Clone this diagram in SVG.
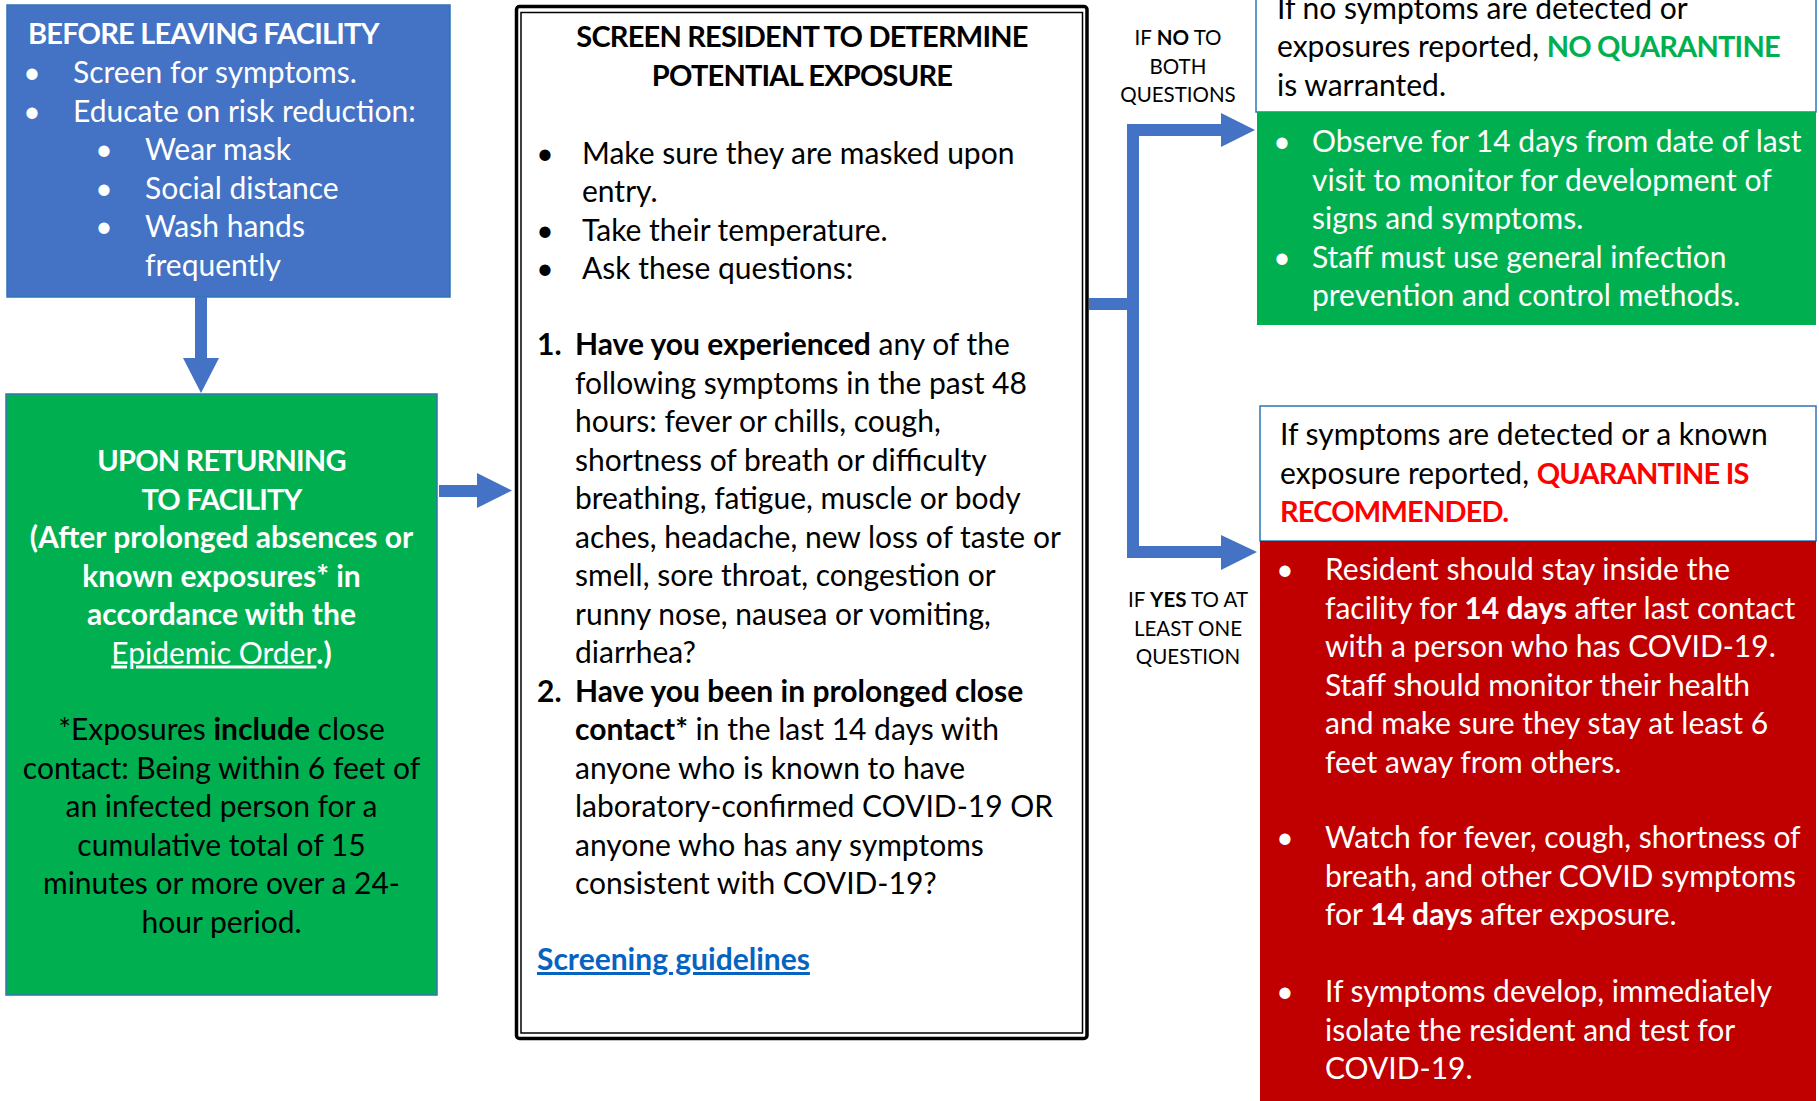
<svg xmlns="http://www.w3.org/2000/svg" width="1819" height="1101" viewBox="0 0 1819 1101">
<style>
text{font-family:Lato,"Open Sans","Liberation Sans",sans-serif;font-size:30px}
.b{font-weight:700}
.w{fill:#fff}
.k{fill:#000}
.c{text-anchor:middle}
.cap{font-size:29px;letter-spacing:-0.8px}
.lbl{font-size:20.5px}
.u{text-decoration:underline}
.bx{stroke:#2E75B6;stroke-width:1.5}
.arr{fill:#4472C4}
</style>
<rect width="1819" height="1101" fill="#fff"/>

<g id="before">
<rect class="bx" x="7" y="5" width="443" height="292" fill="#4472C4"/>
<text class="w b cap" x="28" y="44">BEFORE LEAVING FACILITY</text>
<text class="w c" x="32" y="83">•</text><text class="w" x="73" y="83">Screen for symptoms.</text>
<text class="w c" x="32" y="121.5">•</text><text class="w" x="73" y="121.5">Educate on risk reduction:</text>
<text class="w c" x="104" y="160">•</text><text class="w" x="145" y="160">Wear mask</text>
<text class="w c" x="104" y="198.5">•</text><text class="w" x="145" y="198.5">Social distance</text>
<text class="w c" x="104" y="237">•</text><text class="w" x="145" y="237">Wash hands</text>
<text class="w" x="145" y="275.5">frequently</text>
</g>

<g id="returning">
<rect class="bx" x="6" y="394" width="431" height="601" fill="#00B050"/>
<text class="w b c cap" x="221.5" y="471">UPON RETURNING</text>
<text class="w b c cap" x="221.5" y="509.5">TO FACILITY</text>
<text class="w b c" x="221.5" y="548">(After prolonged absences or</text>
<text class="w b c" x="221.5" y="586.5">known exposures* in</text>
<text class="w b c" x="221.5" y="625">accordance with the</text>
<text class="w c" x="221.5" y="663.5"><tspan class="u">Epidemic Order</tspan><tspan class="b">.)</tspan></text>
<text class="k c" x="221.5" y="740">*Exposures <tspan class="b">include</tspan> close</text>
<text class="k c" x="221.5" y="778.5">contact: Being within 6 feet of</text>
<text class="k c" x="221.5" y="817">an infected person for a</text>
<text class="k c" x="221.5" y="855.5">cumulative total of 15</text>
<text class="k c" x="221.5" y="894">minutes or more over a 24-</text>
<text class="k c" x="221.5" y="932.5">hour period.</text>
</g>

<g id="screen">
<rect x="516.5" y="6.5" width="570.5" height="1032" rx="3" fill="#fff" stroke="#000" stroke-width="3.5"/>
<rect x="521" y="12.5" width="561.5" height="1020.5" fill="none" stroke="#000" stroke-width="1.5"/>
<text class="k b c cap" x="802" y="47">SCREEN RESIDENT TO DETERMINE</text>
<text class="k b c cap" x="802" y="86">POTENTIAL EXPOSURE</text>
<text class="k c" x="545" y="163.5">•</text><text class="k" x="582" y="163.5">Make sure they are masked upon</text>
<text class="k" x="582" y="202">entry.</text>
<text class="k c" x="545" y="240.5">•</text><text class="k" x="582" y="240.5">Take their temperature.</text>
<text class="k c" x="545" y="279">•</text><text class="k" x="582" y="279">Ask these questions:</text>
<text class="k b" x="537" y="355">1.</text><text class="k" x="575" y="355"><tspan class="b">Have you experienced</tspan> any of the</text>
<text class="k" x="575" y="393.5">following symptoms in the past 48</text>
<text class="k" x="575" y="432">hours: fever or chills, cough,</text>
<text class="k" x="575" y="470.5">shortness of breath or difficulty</text>
<text class="k" x="575" y="509">breathing, fatigue, muscle or body</text>
<text class="k" x="575" y="547.5">aches, headache, new loss of taste or</text>
<text class="k" x="575" y="586">smell, sore throat, congestion or</text>
<text class="k" x="575" y="624.5">runny nose, nausea or vomiting,</text>
<text class="k" x="575" y="663">diarrhea?</text>
<text class="k b" x="537" y="701.5">2.</text><text class="k b" x="575" y="701.5">Have you been in prolonged close</text>
<text class="k" x="575" y="740"><tspan class="b">contact*</tspan> in the last 14 days with</text>
<text class="k" x="575" y="778.5">anyone who is known to have</text>
<text class="k" x="575" y="817">laboratory-confirmed COVID-19 OR</text>
<text class="k" x="575" y="855.5">anyone who has any symptoms</text>
<text class="k" x="575" y="894">consistent with COVID-19?</text>
<text class="b u" x="537" y="970" fill="#0563C1">Screening guidelines</text>
</g>

<g id="no-quarantine">
<rect class="bx" x="1256" y="-5" width="560" height="117" fill="#fff"/>
<rect x="1257" y="112" width="559" height="213" fill="#00B050"/>
<text class="k" x="1277" y="18.5">If no symptoms are detected or</text>
<text class="k" x="1277" y="57">exposures reported, <tspan class="b cap" fill="#00B050">NO QUARANTINE</tspan></text>
<text class="k" x="1277" y="95.5">is warranted.</text>
<text class="w c" x="1282" y="152">•</text><text class="w" x="1312" y="152">Observe for 14 days from date of last</text>
<text class="w" x="1312" y="190.5">visit to monitor for development of</text>
<text class="w" x="1312" y="229">signs and symptoms.</text>
<text class="w c" x="1282" y="267.5">•</text><text class="w" x="1312" y="267.5">Staff must use general infection</text>
<text class="w" x="1312" y="306">prevention and control methods.</text>
</g>

<g id="quarantine">
<rect class="bx" x="1260" y="406" width="556" height="135" fill="#fff"/>
<rect x="1260" y="541" width="556" height="565" fill="#C00000"/>
<text class="k" x="1280" y="445">If symptoms are detected or a known</text>
<text class="k" x="1280" y="483.5">exposure reported, <tspan class="b cap" fill="#FF0000">QUARANTINE IS</tspan></text>
<text class="b cap" x="1280" y="522" fill="#FF0000">RECOMMENDED.</text>
<text class="w c" x="1285" y="580">•</text><text class="w" x="1325" y="580">Resident should stay inside the</text>
<text class="w" x="1325" y="618.5">facility for <tspan class="b">14 days</tspan> after last contact</text>
<text class="w" x="1325" y="657">with a person who has COVID-19.</text>
<text class="w" x="1325" y="695.5">Staff should monitor their health</text>
<text class="w" x="1325" y="734">and make sure they stay at least 6</text>
<text class="w" x="1325" y="772.5">feet away from others.</text>
<text class="w c" x="1285" y="848">•</text><text class="w" x="1325" y="848">Watch for fever, cough, shortness of</text>
<text class="w" x="1325" y="886.5">breath, and other COVID symptoms</text>
<text class="w" x="1325" y="925">for <tspan class="b">14 days</tspan> after exposure.</text>
<text class="w c" x="1285" y="1002">•</text><text class="w" x="1325" y="1002">If symptoms develop, immediately</text>
<text class="w" x="1325" y="1040.5">isolate the resident and test for</text>
<text class="w" x="1325" y="1079">COVID-19.</text>
</g>

<g id="connectors">
<polygon class="arr" points="195,297 207,297 207,358 219,358 201,393 183,358 195,358"/>
<polygon class="arr" points="439,485 477,485 477,473 512,490.5 477,508 477,497 439,497"/>
<polygon class="arr" points="1089,298 1127,298 1127,124 1221,124 1221,113 1255,130 1221,147 1221,136 1139,136 1139,546 1221,546 1221,535 1257,552 1221,570 1221,558 1127,558 1127,310 1089,310"/>
<text class="k c lbl" x="1178" y="45">IF <tspan class="b">NO</tspan> TO</text>
<text class="k c lbl" x="1178" y="73.5">BOTH</text>
<text class="k c lbl" x="1178" y="102">QUESTIONS</text>
<text class="k c lbl" x="1188" y="607">IF <tspan class="b">YES</tspan> TO AT</text>
<text class="k c lbl" x="1188" y="635.5">LEAST ONE</text>
<text class="k c lbl" x="1188" y="664">QUESTION</text>
</g>
</svg>
